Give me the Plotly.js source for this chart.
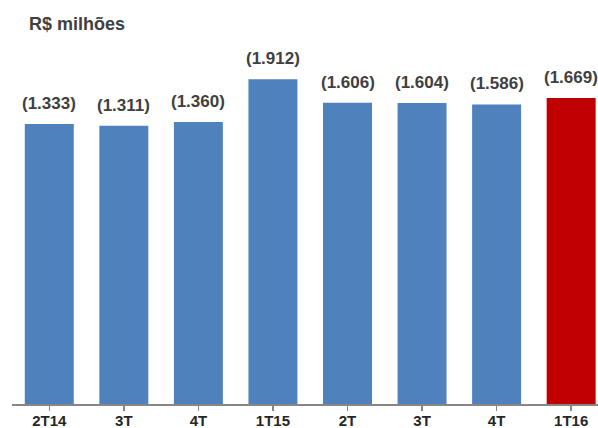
<!DOCTYPE html>
<html>
<head>
<meta charset="utf-8">
<script src="https://cdn.plot.ly/plotly-3.0.1.min.js"></script>
<style>html,body{margin:0;padding:0;background:#fff;}#chart{width:598px;height:428px;}</style>
</head>
<body>
<div id="chart"></div>
<script>
// Data
const periods = ["2T14", "3T", "4T", "1T15", "2T", "3T", "4T", "1T16"];
const values = [1333, 1311, 1360, 1912, 1606, 1604, 1586, 1669];
const barColors = ["#4F81BD", "#4F81BD", "#4F81BD", "#4F81BD", "#4F81BD", "#4F81BD", "#4F81BD", "#C00000"];

// truncated value axis (bars start from the axis floor)
const AXIS_FLOOR = -2280;
const AXIS_TOP = 2417;

const xs = periods.map((_, i) => i);

function fmt(v) {
  const s = String(v);
  return "(" + s.replace(/\B(?=(\d{3})+(?!\d))/g, ".") + ")";
}

const trace = {
  type: "bar",
  x: xs,
  y: values.map(v => v - AXIS_FLOOR),
  base: AXIS_FLOOR,
  marker: { color: barColors, line: { width: 0 } },
  hoverinfo: "skip"
};

const annotations = values.map((v, i) => ({
  x: xs[i],
  y: v,
  xref: "x",
  yref: "y",
  text: fmt(v),
  showarrow: false,
  yanchor: "bottom",
  yshift: 9,
  font: { family: "Liberation Sans, Arial, sans-serif", size: 17, color: "#404040", weight: "bold" }
}));

annotations.push({
  xref: "paper", yref: "paper",
  x: 0.0256, y: 1,
  xanchor: "left", yanchor: "middle",
  yshift: 16,
  text: "<b>R$ milhões</b>",
  showarrow: false,
  font: { family: "Liberation Sans, Arial, sans-serif", size: 18, color: "#404040" }
});

const layout = {
  width: 598,
  height: 428,
  margin: { l: 12, r: 0, t: 40, b: 24, pad: 0 },
  paper_bgcolor: "#ffffff",
  plot_bgcolor: "#ffffff",
  showlegend: false,
  bargap: 0.343,
  xaxis: {
    range: [-0.5, 7.36],
    tickmode: "array",
    tickvals: xs,
    ticktext: periods.map(p => "<b>" + p + "</b>"),
    tickson: "boundaries",
    ticks: "outside",
    ticklen: 5,
    tickcolor: "#868686",
    tickwidth: 1.5,
    ticklabelstandoff: -3,
    showline: true,
    linecolor: "#868686",
    linewidth: 1.5,
    showgrid: false,
    zeroline: false,
    fixedrange: true,
    tickfont: { family: "Liberation Sans, Arial, sans-serif", size: 15, color: "#262626" }
  },
  yaxis: {
    range: [AXIS_FLOOR, AXIS_TOP],
    visible: false,
    showgrid: false,
    zeroline: false,
    fixedrange: true
  },
  annotations: annotations
};

Plotly.newPlot("chart", [trace], layout, { displayModeBar: false, staticPlot: true });
</script>
</body>
</html>
